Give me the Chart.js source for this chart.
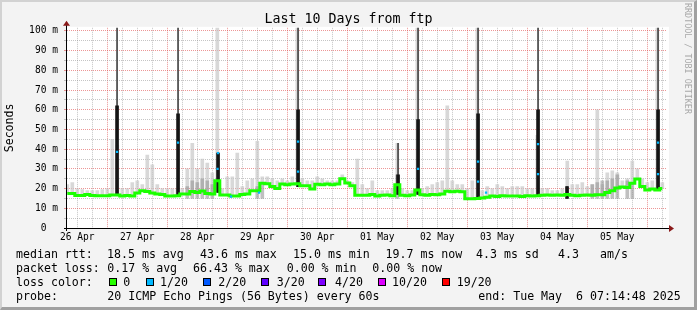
<!DOCTYPE html>
<html><head><meta charset="utf-8">
<script src="https://cdn.jsdelivr.net/npm/chart.js@4.4.1/dist/chart.umd.min.js"></script>
<style>
html,body{margin:0;padding:0;background:#f3f3f3;}
#wrap{position:relative;width:697px;height:310px;background:#f3f3f3;overflow:hidden;}
#frame{position:absolute;left:0;top:0;width:697px;height:310px;box-sizing:border-box;border-top:2px solid #d2d2d2;border-left:2px solid #d2d2d2;border-right:3px solid #a0a0a0;border-bottom:3px solid #a0a0a0;pointer-events:none;}
canvas{position:absolute;left:0;top:0;}
.t{position:absolute;font-family:"DejaVu Sans Mono",monospace;font-size:11.6px;line-height:14px;color:#000;white-space:pre;}
.sq{position:absolute;width:6px;height:6px;border:1px solid #000;}
#title{position:absolute;left:0;top:11px;width:697px;text-align:center;font-family:"DejaVu Sans Mono",monospace;font-size:13.3px;line-height:16px;color:#000;white-space:pre;}
#rrd{position:absolute;left:683px;top:3px;writing-mode:vertical-rl;font-family:"DejaVu Sans Mono",monospace;font-size:8.4px;line-height:10px;color:#a8a8a8;white-space:pre;}
</style>
</head>
<body>
<div id="wrap">
<canvas id="c" width="697" height="310"></canvas>
<div id="title">Last 10 Days from ftp</div>
<div id="rrd">RRDTOOL / TOBI OETIKER</div>
<div id="legend"></div>
<div id="frame"></div>
</div>
<script>
// ---- data (hours since 26 Apr 00:00) ----
const sampleHours = [8,10,12,14,16,18,20,22,24,26,28,30,32,34,36,38,40,42,44,46,
48,50,52,54,56,58,60,62,64,66,68,70,72,74,76,78,80,82,84,86,
88,90,92,94,96,98,100,102,104,106,108,110,112,114,116,118,120,122,124,126,
128,130,132,134,136,138,140,142,144,146,148,150,152,154,156,158,160,162,164,166,
168,170,172,174,176,178,180,182,184,186,188,190,192,194,196,198,200,202,204,206,
208,210,212,214,216,218,220,222,224,226,228,230,232,234,236,238,240,242,244,246];

const medianRtt = [17.5,17.5,16.5,16.5,17.0,16.5,16.4,16.4,16.4,16.8,
16.8,16.2,16.5,16.2,17.8,18.9,18.5,17.8,17.3,17.0,
16.2,16.2,16.4,17.3,17.3,18.5,18.0,18.8,17.5,17.3,
24.0,16.8,16.8,16.2,16.2,17.0,17.3,18.9,18.9,22.7,
22.5,21.0,20.0,22.3,22.0,22.3,22.5,21.5,21.5,19.8,
22.2,22.0,22.3,22.0,22.3,25.0,22.8,21.5,16.6,16.6,
16.6,17.0,16.3,16.6,16.8,16.4,22.0,16.6,16.4,16.8,
19.3,16.9,16.6,17.0,16.9,17.2,18.6,18.4,18.6,18.4,
14.9,14.9,15.0,15.2,15.6,16.2,16.0,16.4,16.2,16.2,
16.2,16.0,16.4,16.2,16.4,16.6,16.8,16.6,16.8,16.6,
17.0,16.6,16.4,16.6,16.8,16.6,16.9,16.9,18.0,18.9,
20.3,20.8,20.5,22.7,24.9,21.0,19.3,19.8,19.3,20.0];

const smokeMax = [22,23,20,19.5,19,19,19,19.5,20,45,
42,20,20,23,24,22,37,32,22,20,
20,20,20,20,30,43,30,35,33,28,
150,20,26,26,38,21,24,25,44,26,
26,25,24,25,24,26,150,25,24,24,
26,25,24,24,24,27,24,23,35,22,
20,24,19,19,19,20,43,20,19,19,
150,20,21,22,23,24,62,24,22,22,
20,24,150,19,21,20,22,21,20,21,
21,21,20,20,47,20,20,19,19,20,
34,22,22,23,21,22,60,22,28,29,
28,24,25,34,30,25,23,24,150,23];

// denser (darker) smoke patches
const denseHours = [56,58,60,62,64,66,84,86,140,218,220,222,224,226,228,232,234];
const denseHigh  = [21,24,23,25,24,22,21,22,27,22,23,24,24,25,27,24,23];

const spikeHours = [27.9,52.3,68.3,100.3,140.3,148.3,172.3,196.3,207.9,244.3];
const spikeLow   = [17,16.5,18,21,17,17,15,16,15,19];
const spikeHigh  = [150,150,38,150,43,150,150,150,21,150];
const spikeBody  = [62,58,38,60,27,55,58,60,21,60];

const lossHours  = [27.9,52.3,68.3,68.1,100.3,100.3,148.3,172.3,172.3,196.3,196.3,244.3,244.3,73.5,84.7,175.5];
const lossValues = [38.6,43.3,38.0,30.0,43.8,28.6,30.0,33.7,23.5,42.6,27.4,43.3,27.4,15.9,17.9,17.9];

const xGridHours = [12,18,24,30,36,42,48,54,60,66,72,78,84,90,96,102,108,114,120,126,132,138,144,150,156,162,168,174,180,186,192,198,204,210,216,222,228,234,240,246];
const xTickLabels = ['26 Apr','27 Apr','28 Apr','29 Apr','30 Apr','01 May','02 May','03 May','04 May','05 May'];
const yGridValues = [0,5,10,15,20,25,30,35,40,45,50,55,60,65,70,75,80,85,90,95,100];
const yTickLabels = ['0  ','10 m','20 m','30 m','40 m','50 m','60 m','70 m','80 m','90 m','100 m'];

const lossColors = ['#26ff00','#00b8ff','#0059ff','#5e00ff','#7e00ff','#dd00ff','#ff0000'];
const lossNames  = ['0','1/20','2/20','3/20','4/20','10/20','19/20'];

// ---- legend text ----
const legendRows = [
  [247.3, [[16,'median rtt:'],[107,'18.5 ms avg'],[200,'43.6 ms max'],[293,'15.0 ms min'],[385.5,'19.7 ms now'],[476,'4.3 ms sd'],[558,'4.3'],[600,'am/s']]],
  [261.3, [[16,'packet loss:'],[107.3,'0.17 % avg'],[193,'66.43 % max'],[286.7,'0.00 % min'],[372.3,'0.00 % now']]],
  [275.3, [[16,'loss color:'],[123.3,lossNames[0]],[160,lossNames[1]],[218.3,lossNames[2]],[276.7,lossNames[3]],[335,lossNames[4]],[392,lossNames[5]],[456.7,lossNames[6]]]],
  [289, [[16,'probe:'],[107.3,'20 ICMP Echo Pings (56 Bytes) every 60s'],[478.3,'end: Tue May  6 07:14:48 2025']]]
];
const sqX = [108.5,145.5,203.3,260.7,318.3,377.7,441.7];
const leg = document.getElementById('legend');
legendRows.forEach(([top, items]) => items.forEach(([x, s]) => {
  const d = document.createElement('div'); d.className = 't';
  d.style.left = x + 'px'; d.style.top = top + 'px'; d.textContent = s; leg.appendChild(d);
}));
sqX.forEach((x, i) => {
  const d = document.createElement('div'); d.className = 'sq';
  d.style.left = x + 'px'; d.style.top = '278px'; d.style.background = lossColors[i]; leg.appendChild(d);
});

// ---- chart ----
const FONT = '"DejaVu Sans Mono", monospace';
const RED = 'rgba(225,80,80,0.6)';
const GRAY = 'rgba(140,140,140,0.5)';

const smokeData = sampleHours.map((h, i) => ({x: h, y: [medianRtt[i], smokeMax[i]]}));
const medianData = sampleHours.map((h, i) => ({x: h, y: medianRtt[i]}));
const denseData = denseHours.map((h, i) => ({x: h, y: [15, denseHigh[i]]}));
const spikeTopData = spikeHours.map((h, i) => ({x: h, y: [spikeLow[i], spikeHigh[i]]}));
const spikeBodyData = spikeHours.map((h, i) => ({x: h, y: [spikeLow[i], spikeBody[i]]}));
const lossData = lossHours.map((h, i) => ({x: h, y: lossValues[i]}));

const framePlugin = {
  id: 'framePlugin',
  beforeDraw(chart) {
    const {ctx, chartArea: a} = chart;
    ctx.save();
    ctx.fillStyle = '#ffffff';
    ctx.fillRect(a.left, a.top - 1, a.right - a.left + 2, a.bottom - a.top + 1);
    ctx.restore();
  },
  afterDatasetsDraw(chart) {
    const {ctx, chartArea: a} = chart;
    ctx.save();
    ctx.strokeStyle = '#000';
    ctx.lineWidth = 1;
    ctx.beginPath();
    ctx.moveTo(a.left - 3, a.bottom + 0.5); ctx.lineTo(a.right + 3, a.bottom + 0.5);
    ctx.moveTo(a.left - 0.5, a.bottom + 3); ctx.lineTo(a.left - 0.5, a.top - 3);
    ctx.stroke();
    ctx.fillStyle = '#8a1a1a';
    ctx.beginPath();
    ctx.moveTo(a.left - 4, a.top - 2); ctx.lineTo(a.left + 3, a.top - 2); ctx.lineTo(a.left - 0.5, a.top - 7); ctx.closePath(); ctx.fill();
    ctx.beginPath();
    ctx.moveTo(a.right + 2, a.bottom - 3); ctx.lineTo(a.right + 2, a.bottom + 4); ctx.lineTo(a.right + 7, a.bottom + 0.5); ctx.closePath(); ctx.fill();
    ctx.restore();
  }
};

new Chart(document.getElementById('c'), {
  type: 'bar',
  data: {
    datasets: [
      {type: 'line', label: 'loss', data: lossData, showLine: false, pointStyle: 'rect', pointRadius: 1.6, pointBackgroundColor: '#00b8ff', pointBorderWidth: 0, order: 0},
      {type: 'line', label: 'median', data: medianData, stepped: 'middle', borderColor: '#1aff00', borderWidth: 3, pointRadius: 0, fill: false, order: 1},
      {type: 'bar', label: 'spikeBody', data: spikeBodyData, backgroundColor: '#151515', barThickness: 3, grouped: false, order: 2},
      {type: 'bar', label: 'spikeTop', data: spikeTopData, backgroundColor: '#444444', barThickness: 1, grouped: false, order: 3},
      {type: 'bar', label: 'dense', data: denseData, backgroundColor: 'rgba(150,150,150,0.6)', barThickness: 3, grouped: false, order: 4},
      {type: 'bar', label: 'smoke', data: smokeData, backgroundColor: 'rgba(200,200,200,0.7)', barThickness: 3, grouped: false, order: 5}
    ]
  },
  options: {
    responsive: false, animation: false, devicePixelRatio: 1,
    layout: {padding: {left: 0, top: 27.8, right: 30, bottom: 0}},
    plugins: {legend: {display: false}, tooltip: {enabled: false}, title: {display: false}},
    scales: {
      x: {
        type: 'linear', min: 7.88, max: 247.88, offset: false,
        afterBuildTicks: s => { s.ticks = xGridHours.map(v => ({value: v})); },
        afterFit: s => { s.height = 82; },
        ticks: {autoSkip: false, maxRotation: 0, minRotation: 0, padding: 3.5, color: '#000',
          font: {family: FONT, size: 9.6},
          callback: v => (v % 24 === 12 ? xTickLabels[(v - 12) / 24] : '')},
        grid: {color: c => (c.tick && c.tick.value % 24 === 0 ? RED : GRAY), lineWidth: 1, drawTicks: false, offset: false, borderDash: [1, 1]},
        border: {display: false, dash: [1, 1]}
      },
      y: {
        type: 'linear', min: 0, max: 101.6,
        afterBuildTicks: s => { s.ticks = yGridValues.map(v => ({value: v})); },
        afterFit: s => { s.width = 67; },
        ticks: {autoSkip: false, padding: 6, color: '#000', font: {family: FONT, size: 9.6},
          callback: v => (v % 10 === 0 ? yTickLabels[v / 10] : '')},
        grid: {color: c => (c.tick && c.tick.value % 10 === 0 ? RED : GRAY), lineWidth: 1, drawTicks: true, tickLength: 3,
          tickColor: c => (c.tick && c.tick.value % 10 === 0 ? RED : GRAY), borderDash: [1, 1]},
        border: {display: false, dash: [1, 1]},
        title: {display: true, text: 'Seconds', color: '#000', font: {family: FONT, size: 11.6}, padding: {top: 3, bottom: 0}}
      }
    }
  },
  plugins: [framePlugin]
});
</script>
</body></html>
